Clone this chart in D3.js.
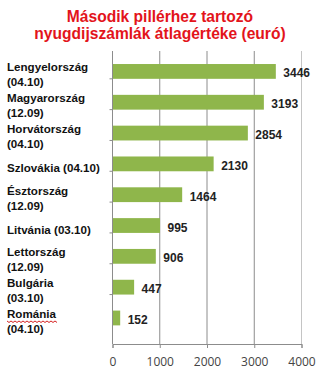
<!DOCTYPE html>
<html>
<head>
<meta charset="utf-8">
<script src="https://cdn.jsdelivr.net/npm/d3@7"></script>
<style>
  body { margin: 0; background: #fff; }
  text { font-family: "Liberation Sans", Arial, sans-serif; }
</style>
</head>
<body>
<svg id="chart" width="320" height="374"></svg>
<script>
// data
var titleLines = ["Második pillérhez tartozó", "nyugdijszámlák átlagértéke (euró)"];
var countries = ["Lengyelország", "Magyarország", "Horvátország", "Szlovákia", "Észtország",
                 "Litvánia", "Lettország", "Bulgária", "Románia"];
var dates = ["(04.10)", "(12.09)", "(04.10)", "(04.10)", "(12.09)", "(03.10)", "(12.09)", "(03.10)", "(04.10)"];
var values = [3446, 3193, 2854, 2130, 1464, 995, 906, 447, 152];
var oneLine = [false, false, false, true, false, true, false, false, false];
var xTicks = [0, 1000, 2000, 3000, 4000];

var svg = d3.select("#chart");
var plotTop = 51, plotBottom = 344;

var x = d3.scaleLinear().domain([0, 4000]).range([112.5, 301.5]);
var y = d3.scaleBand().domain(countries).range([48, 341.4]).padding(0.52);

// title
svg.selectAll(".title")
    .data(titleLines)
  .enter().append("text")
    .attr("class", "title")
    .attr("x", 160)
    .attr("y", function(d, i) { return 22 + i * 17; })
    .attr("text-anchor", "middle")
    .style("font-size", "15.6px")
    .style("font-weight", "bold")
    .style("fill", "#e3141b")
    .text(function(d) { return d; });

// bottom axis with gridlines
var xAxis = svg.append("g")
    .attr("transform", "translate(0," + plotBottom + ")")
    .call(d3.axisBottom(x).tickValues(xTicks).tickFormat(d3.format("d")).tickSize(4).tickPadding(9));
xAxis.select(".domain").attr("stroke", "#8c8c8c");
xAxis.selectAll(".tick line").attr("stroke", "#8c8c8c");
xAxis.selectAll(".tick text")
    .style("font-family", "'Open Sans', sans-serif")
    .style("font-size", "12px")
    .style("fill", "#444");

svg.selectAll(".grid")
    .data(xTicks.slice(1))
  .enter().append("line")
    .attr("class", "grid")
    .attr("x1", function(d) { return x(d); })
    .attr("x2", function(d) { return x(d); })
    .attr("y1", plotTop)
    .attr("y2", plotBottom)
    .attr("stroke", function(d) { return d === 4000 ? "#c4c4c4" : "#8c8c8c"; })
    .attr("stroke-width", 1);

// left axis line with ticks between categories
svg.append("line")
    .attr("x1", x(0)).attr("x2", x(0))
    .attr("y1", plotTop).attr("y2", plotBottom)
    .attr("stroke", "#8c8c8c");

svg.selectAll(".ytick")
    .data(d3.range(1, countries.length))
  .enter().append("line")
    .attr("class", "ytick")
    .attr("x1", x(0) - 3).attr("x2", x(0))
    .attr("y1", function(i) { return 48 + i * y.step(); })
    .attr("y2", function(i) { return 48 + i * y.step(); })
    .attr("stroke", "#8c8c8c");

// bars
svg.selectAll(".bar")
    .data(values)
  .enter().append("rect")
    .attr("class", "bar")
    .attr("x", x(0) + 0.5)
    .attr("y", function(d, i) { return y(countries[i]); })
    .attr("width", function(d) { return x(d) - x(0); })
    .attr("height", y.bandwidth())
    .attr("fill", "#8fb64b");

// value labels
svg.selectAll(".val")
    .data(values)
  .enter().append("text")
    .attr("class", "val")
    .attr("x", function(d) { return x(d) + 8; })
    .attr("y", function(d, i) { return y(countries[i]) + y.bandwidth() / 2 + 6; })
    .style("font-size", "12px")
    .style("font-weight", "bold")
    .style("fill", "#222")
    .text(function(d) { return d; });

// category labels
var lab = svg.selectAll(".cat")
    .data(countries)
  .enter().append("text")
    .attr("class", "cat")
    .attr("x", 7)
    .attr("y", function(d, i) {
      var c = y(d) + y.bandwidth() / 2;
      return oneLine[i] ? c + 8 : c;
    })
    .style("font-size", "11.6px")
    .style("font-weight", "bold")
    .style("fill", "#111");

lab.each(function(d, i) {
  var t = d3.select(this);
  if (oneLine[i]) {
    t.text(d + " " + dates[i]);
  } else {
    t.append("tspan").attr("x", 7).text(d);
    t.append("tspan").attr("x", 7).attr("dy", 15).text(dates[i]);
  }
});

// spell-check squiggle under Románia
var rom = countries.indexOf("Románia");
var uy = y(countries[rom]) + y.bandwidth() / 2 + 3.5;
var pts = d3.range(7, 59, 2).map(function(px, k) { return [px, uy + (k % 2 ? 1 : -0.5)]; });
svg.append("path")
    .attr("d", d3.line()(pts))
    .attr("fill", "none")
    .attr("stroke", "#d42020")
    .attr("stroke-width", 1);
</script>
</body>
</html>
